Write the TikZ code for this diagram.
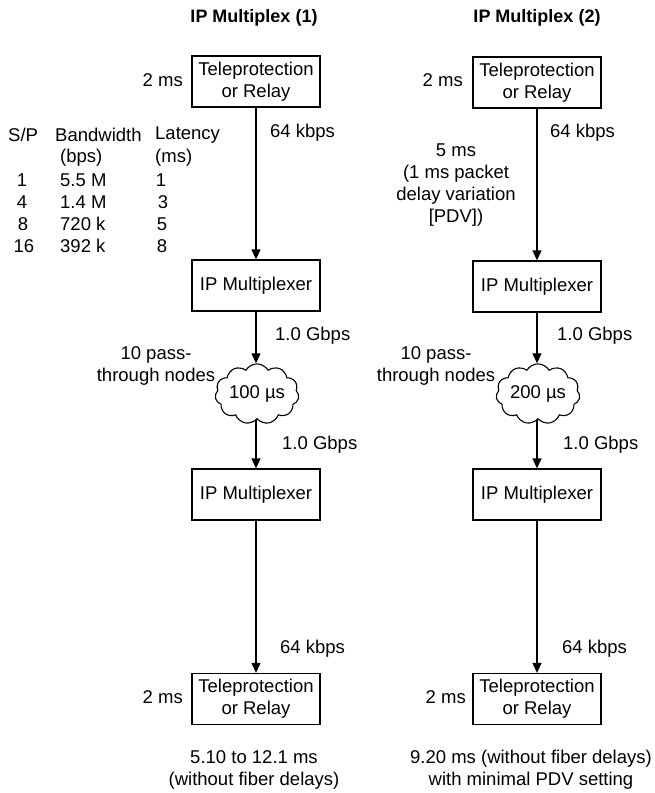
\documentclass[tikz,border=0pt]{standalone}
\usepackage{fontspec}
\setmainfont{Liberation Sans}
\usetikzlibrary{shapes.symbols,arrows.meta}
\begin{document}
\begin{tikzpicture}[x=1pt,y=-1pt,
  every node/.style={font=\fontsize{18.5}{22}\selectfont, inner sep=0pt},
  box/.style={draw, line width=1.3pt, minimum width=128pt, minimum height=51pt, align=center},
  cloudnode/.style={cloud, draw, line width=1.1pt, cloud puffs=11, cloud puff arc=120, aspect=1.6, minimum width=77pt, minimum height=48pt},
  lbl/.style={align=center},
  arr/.style={line width=1.3pt, -{Triangle[length=10pt,width=9pt]}},
  title/.style={font=\bfseries\fontsize{18}{22}\selectfont}]
\useasboundingbox (0,0) rectangle (654,793);

% ---------- left column ----------
\node[title] (t1) at (254,18) {IP Multiplex (1)};
\node[box] (tr1) at (256,81.5) {Teleprotection\\or Relay};
\node[box] (ma1) at (256,285.5) {IP Multiplexer};
\node[cloudnode] (c1) at (257,394) {100 µs};
\node[box] (mb1) at (256,494.5) {IP Multiplexer};
\node[box] (tb1) at (256,699) {Teleprotection\\or Relay};
\draw[arr] (tr1) -- (ma1);
\draw[arr] (ma1.south) -- (ma1.south |- c1.north);
\draw[arr] (c1.south -| mb1.north) -- (mb1);
\draw[arr] (mb1) -- (tb1);

\node[anchor=east] (l2a) at (183,80) {2 ms};
\node[anchor=west] (l64a) at (270,133) {64 kbps};
\node[anchor=west] (lg1a) at (275,336) {1.0 Gbps};
\node[lbl] (lpa) at (156,366) {10 pass-\\through nodes};
\node[anchor=west] (lg2a) at (282,445) {1.0 Gbps};
\node[anchor=west] (l64b) at (280,649) {64 kbps};
\node[anchor=east] (l2b) at (183,697) {2 ms};
\node[lbl] (la) at (254,770) {5.10 to 12.1 ms\\(without fiber delays)};

% table
\node[anchor=west] (h1) at (8,135) {S/P};
\node[anchor=west] (h2) at (55,135) {Bandwidth};
\node[anchor=west] (h3) at (155,135) {Latency};
\node[anchor=west] (h2b) at (60,158) {(bps)};
\node[anchor=west] (h3b) at (155,158) {(ms)};
\node (s1) at (22,180) {1};
\node (s2) at (22,202) {4};
\node (s3) at (23,224) {8};
\node (s4) at (24,246) {16};
\node[anchor=west] (b1) at (60,180) {5.5 M};
\node[anchor=west] (b2) at (60,202) {1.4 M};
\node[anchor=west] (b3) at (60,224) {720 k};
\node[anchor=west] (b4) at (60,246) {392 k};
\node (d1) at (161,180) {1};
\node (d2) at (163,202) {3};
\node (d3) at (162,224) {5};
\node (d4) at (162,246) {8};

% ---------- right column ----------
\node[title] (t2) at (537,18) {IP Multiplex (2)};
\node[box] (tr2) at (537,82.5) {Teleprotection\\or Relay};
\node[box] (ma2) at (537,286.5) {IP Multiplexer};
\node[cloudnode] (c2) at (538,394) {200 µs};
\node[box] (mb2) at (537,494.5) {IP Multiplexer};
\node[box] (tb2) at (537,699) {Teleprotection\\or Relay};
\draw[arr] (tr2) -- (ma2);
\draw[arr] (ma2.south) -- (ma2.south |- c2.north);
\draw[arr] (c2.south -| mb2.north) -- (mb2);
\draw[arr] (mb2) -- (tb2);

\node[anchor=east] (r2a) at (463,80) {2 ms};
\node[anchor=west] (r64a) at (550,133) {64 kbps};
\node[lbl] (r5) at (456,185) {5 ms\\(1 ms packet\\delay variation\\{[PDV])}};
\node[anchor=west] (rg1a) at (557,336) {1.0 Gbps};
\node[lbl] (rpa) at (436,366) {10 pass-\\through nodes};
\node[anchor=west] (rg2a) at (563,445) {1.0 Gbps};
\node[anchor=west] (r64b) at (562,649) {64 kbps};
\node[anchor=east] (r2b) at (466,697) {2 ms};
\node[lbl] (ra) at (531,770) {9.20 ms (without fiber delays)\\with minimal PDV setting};
\end{tikzpicture}
\end{document}
